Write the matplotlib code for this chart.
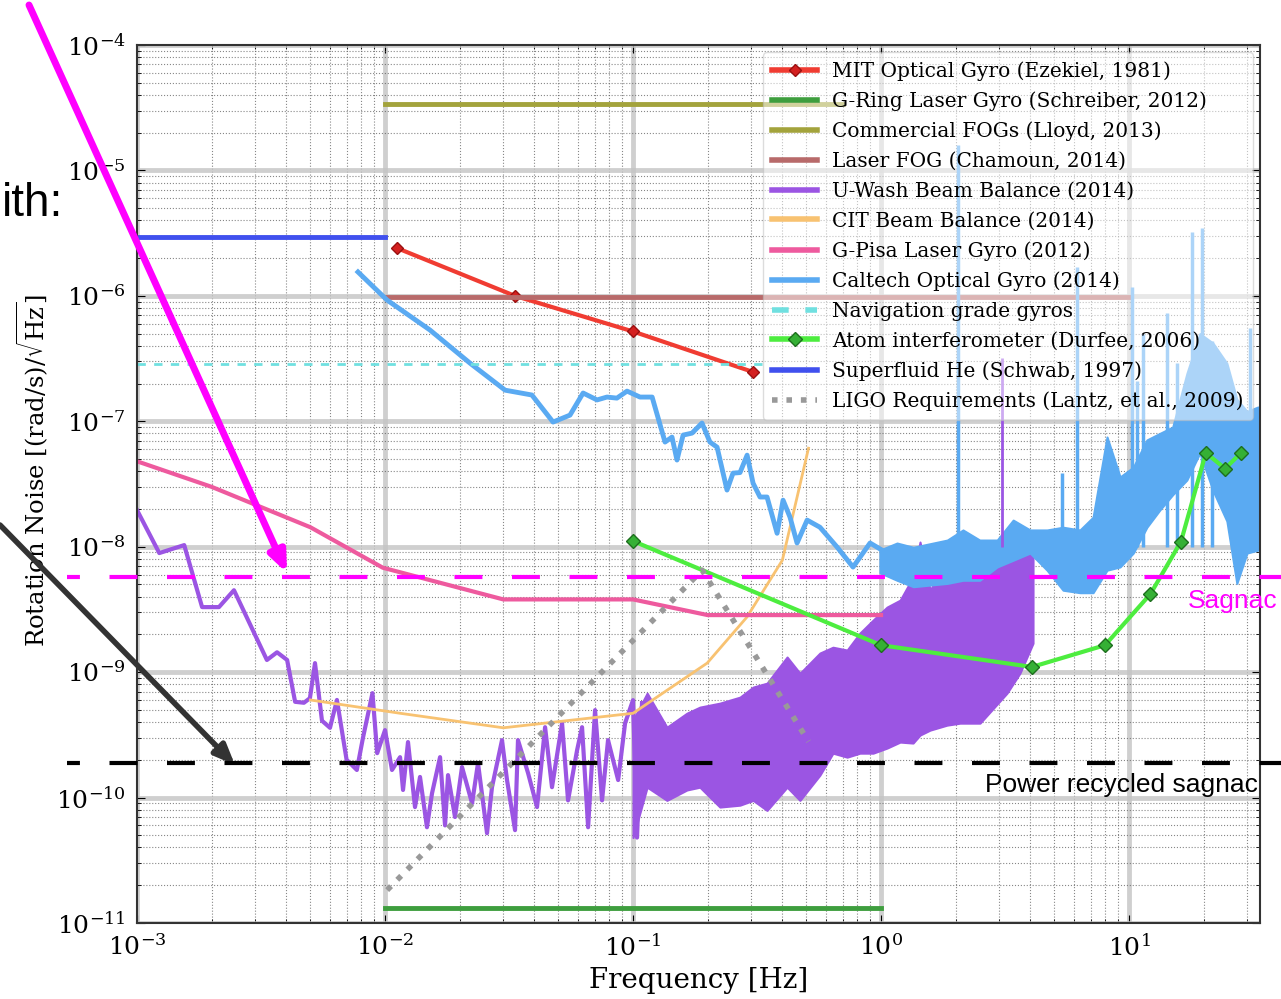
import matplotlib
matplotlib.use("Agg")
import matplotlib.pyplot as plt
from matplotlib import transforms
from matplotlib.lines import Line2D
from matplotlib.patches import FancyArrowPatch

plt.rcParams['font.family'] = 'DejaVu Serif'
plt.rcParams['mathtext.fontset'] = 'dejavuserif'

# ---- data (frequency in Hz, noise in (rad/s)/sqrt(Hz)) ----
mit_f = [0.0112, 0.0334, 0.1, 0.305]
mit_v = [2.4e-6, 1.0e-6, 5.2e-7, 2.47e-7]

gring_f = [0.01, 1.0]
gring_v = [1.31e-11, 1.31e-11]

cfog_f = [0.01, 0.7]
cfog_v = [3.38e-5, 3.38e-5]

lfog_f = [0.01, 10.0]
lfog_v = [9.8e-7, 9.8e-7]

# U-Wash beam balance: low-frequency trace, then dense band (lower / upper edge)
uw_f = [1.0e-3, 1.23e-3, 1.55e-3, 1.83e-3, 2.14e-3, 2.46e-3, 3.34e-3, 3.67e-3,
        4.03e-3, 4.34e-3, 4.71e-3, 4.98e-3, 5.22e-3, 5.57e-3, 6.0e-3, 6.4e-3,
        7.0e-3, 7.7e-3, 8.15e-3, 8.9e-3, 9.3e-3, 1.0e-2, 0.01067, 0.0115,
        0.01182, 0.01238, 0.01321, 0.01384, 0.01476, 0.01547, 0.01667, 0.01746,
        0.01795, 0.01915, 0.02044, 0.02244, 0.02371, 0.02578, 0.027, 0.02963,
        0.03104, 0.03344, 0.03437, 0.03773, 0.04102, 0.0442, 0.04713, 0.05174,
        0.0547, 0.0595, 0.0623, 0.0659, 0.0703, 0.075, 0.0793, 0.0871, 0.0929,
        0.1, 0.1038, 0.1087]
uw_v = [1.96e-8, 8.9e-9, 1.03e-8, 3.3e-9, 3.3e-9, 4.5e-9, 1.25e-9, 1.44e-9,
        1.25e-9, 5.8e-10, 5.7e-10, 6.2e-10, 1.18e-9, 4.1e-10, 3.6e-10, 6.0e-10,
        2.0e-10, 1.66e-10, 3.0e-10, 6.8e-10, 2.26e-10, 3.45e-10, 1.66e-10, 2.1e-10,
        1.15e-10, 2.77e-10, 8.4e-11, 1.46e-10, 5.8e-11, 1.08e-10, 2.1e-10, 6.0e-11,
        1.51e-10, 7.0e-11, 1.75e-10, 9.0e-11, 1.88e-10, 5.2e-11, 1.21e-10, 2.87e-10,
        1.38e-10, 5.5e-11, 2.87e-10, 1.57e-10, 8.4e-11, 3.64e-10, 1.21e-10, 3.92e-10,
        9.5e-11, 2.39e-10, 3.64e-10, 5.8e-11, 4.98e-10, 9.5e-11, 2.87e-10, 1.38e-10, 3.92e-10,
        5.98e-10, 4.8e-11, 5.66e-10]
uwd_f = [0.1, 0.114, 0.137, 0.165, 0.186, 0.224, 0.27, 0.305, 0.347, 0.418, 0.471,
         0.567, 0.64, 0.73, 0.822, 0.929, 1.057, 1.194, 1.346, 1.436, 1.577, 1.845,
         2.083, 2.506, 3.22, 3.63, 4.1]
uwd_hi = [4.14e-10, 6.8e-10, 3.64e-10, 4.71e-10, 5.26e-10, 5.66e-10, 6.32e-10, 7.6e-10,
          8.17e-10, 1.32e-9, 9.8e-10, 1.42e-9, 1.58e-9, 1.5e-9, 2.05e-9, 2.6e-9, 3.3e-9,
          3.75e-9, 5.73e-9, 1.09e-8, 4.51e-9, 7.54e-9, 8.9e-9, 9.93e-9, 1.13e-8, 1.24e-8,
          1.28e-8]
uwd_lo = [4.8e-11, 1.21e-10, 9.5e-11, 1.15e-10, 1.21e-10, 8.4e-11, 8.7e-11, 9.5e-11,
          7.9e-11, 1.21e-10, 9.5e-11, 1.51e-10, 2.26e-10, 2.1e-10, 2.26e-10, 2.26e-10,
          2.48e-10, 2.77e-10, 2.72e-10, 3.15e-10, 3.45e-10, 3.78e-10, 3.92e-10, 3.92e-10,
          6.8e-10, 9.8e-10, 1.7e-9]
uw_spike_f = [3.07]
uw_spike_v = [3.2e-7]

cit_f = [0.005, 0.0115, 0.030, 0.1, 0.199, 0.288, 0.40, 0.51]
cit_v = [6.0e-10, 4.7e-10, 3.6e-10, 4.7e-10, 1.18e-9, 2.75e-9, 7.8e-9, 6.1e-8]

pisa_f = [0.001, 0.002, 0.005, 0.0098, 0.03, 0.1, 0.2, 1.0]
pisa_v = [4.8e-8, 3.0e-8, 1.43e-8, 6.8e-9, 3.8e-9, 3.8e-9, 2.85e-9, 2.85e-9]

# Caltech optical gyro: trace up to ~1 Hz, then noisy band and spikes
cg_f = [7.78e-3, 1.019e-2, 1.518e-2, 2.2e-2, 3.05e-2, 3.91e-2, 4.76e-2, 5.57e-2,
        6.29e-2, 7.16e-2, 7.85e-2, 8.61e-2, 9.46e-2, 0.1067, 0.1194, 0.1346, 0.1436,
        0.1504, 0.1592, 0.173, 0.1897, 0.2042, 0.2182, 0.2393, 0.253, 0.27, 0.2884,
        0.3048, 0.3251, 0.347, 0.381, 0.4027, 0.4295, 0.4585, 0.5035, 0.567, 0.665,
        0.771, 0.903, 1.057]
cg_v = [1.55e-6, 9.26e-7, 5.34e-7, 2.91e-7, 1.77e-7, 1.62e-7, 9.86e-8, 1.12e-7,
        1.68e-7, 1.48e-7, 1.56e-7, 1.53e-7, 1.74e-7, 1.56e-7, 1.56e-7, 6.83e-8, 7.48e-8,
        4.91e-8, 7.76e-8, 8.05e-8, 9.68e-8, 6.83e-8, 6.22e-8, 2.83e-8, 3.86e-8, 3.9e-8,
        5.37e-8, 3.21e-8, 2.49e-8, 2.49e-8, 1.28e-8, 2.35e-8, 1.72e-8, 1.07e-8, 1.63e-8,
        1.43e-8, 9.93e-9, 6.88e-9, 1.07e-8, 8.9e-9]
cgb_f = [0.99, 1.16, 1.35, 1.85, 2.14, 2.5, 2.94, 3.41, 3.99, 4.67, 5.42, 6.34, 7.16,
         8.15, 9.2, 10.4, 11.8, 13.3, 15.0, 17.1, 19.3, 21.8, 24.8, 27.2, 29.9, 33.1]
cgb_hi = [9.4e-9, 1.07e-8, 9.9e-9, 1.13e-8, 1.36e-8, 1.13e-8, 1.13e-8, 1.63e-8, 1.36e-8,
          1.36e-8, 1.43e-8, 1.36e-8, 1.72e-8, 7.5e-8, 3.6e-8, 4.3e-8, 7.1e-8, 8.0e-8,
          9.0e-8, 2.4e-7, 5.0e-7, 4.2e-7, 2.9e-7, 1.5e-7, 1.2e-7, 1.3e-7]
cgb_lo = [6.2e-9, 5.4e-9, 4.8e-9, 5.1e-9, 5.4e-9, 5.4e-9, 6.9e-9, 7.8e-9, 8.9e-9,
          6.5e-9, 4.5e-9, 4.3e-9, 4.3e-9, 6.5e-9, 6.9e-9, 8.9e-9, 1.43e-8, 1.96e-8,
          2.6e-8, 3.4e-8, 5.6e-8, 2.8e-8, 1.6e-8, 5.1e-9, 8.9e-9, 9.4e-9]
cg_spike_f = [2.04, 5.37, 6.17, 8.95, 10.3, 10.8, 11.4, 14.2, 15.6, 17.9, 19.7, 21.6, 30.7]
cg_spike_v = [1.6e-5, 3.9e-8, 1.7e-6, 4.3e-8, 1.17e-6, 2.1e-7, 5.0e-7, 7.3e-7,
              2.9e-7, 3.2e-6, 3.5e-6, 4.4e-7, 5.5e-7]

nav_f = [0.001, 0.33]
nav_v = [2.86e-7, 2.86e-7]

atom_f = [0.1, 1.0, 4.06, 8.0, 12.2, 16.2, 20.4, 24.4, 28.3]
atom_v = [1.11e-8, 1.64e-9, 1.1e-9, 1.64e-9, 4.2e-9, 1.1e-8, 5.6e-8, 4.2e-8, 5.6e-8]

he_f = [0.001, 0.01]
he_v = [2.94e-6, 2.94e-6]

ligo_f = [0.0102, 0.19, 0.51]
ligo_v = [1.83e-11, 6.5e-9, 2.8e-10]

sagnac_level = 5.7e-9
pr_sagnac_level = 1.88e-10

# ---- figure ----
W, H = 1281, 999
fig = plt.figure(figsize=(W / 100, H / 100), dpi=100)
ax = fig.add_axes([137 / W, 1 - 923 / H, 1123 / W, 878 / H])
ax.set_xscale('log')
ax.set_yscale('log')

ax.plot(mit_f, mit_v, color='#f03c32', lw=3, marker='D', ms=6, mfc='#d42020',
        mec='#9a1010', label='MIT Optical Gyro (Ezekiel, 1981)')
ax.plot(gring_f, gring_v, color='#3e9e3e', lw=3.5, label='G-Ring Laser Gyro (Schreiber, 2012)')
ax.plot(cfog_f, cfog_v, color='#a3a33c', lw=3.5, label='Commercial FOGs (Lloyd, 2013)')
ax.plot(lfog_f, lfog_v, color='#b86a6a', lw=3.5, label='Laser FOG (Chamoun, 2014)')

uw_col = '#9b55e3'
ax.plot(uw_f, uw_v, color=uw_col, lw=3, label='U-Wash Beam Balance (2014)')
ax.fill_between(uwd_f, uwd_lo, uwd_hi, color=uw_col, lw=1.5, edgecolor=uw_col)
ax.vlines(uw_spike_f, 1e-8, uw_spike_v, color=uw_col, lw=2)

ax.plot(cit_f, cit_v, color='#f8c271', lw=2, label='CIT Beam Balance (2014)')
ax.plot(pisa_f, pisa_v, color='#ee5a9e', lw=3, label='G-Pisa Laser Gyro (2012)')

cg_col = '#5aaaf2'
ax.plot(cg_f, cg_v, color=cg_col, lw=3.5, label='Caltech Optical Gyro (2014)')
ax.fill_between(cgb_f, cgb_lo, cgb_hi, color=cg_col, lw=1.5, edgecolor=cg_col)
ax.vlines(cg_spike_f, 1e-8, cg_spike_v, color=cg_col, lw=2.5)

ax.plot(nav_f, nav_v, color='#70e0e0', lw=2, ls=(0, (3, 3)), label='Navigation grade gyros')
ax.plot(atom_f, atom_v, color='#4ded3f', lw=3, marker='D', ms=7, mfc='#35b035',
        mec='#1d6e1d', label='Atom interferometer (Durfee, 2006)')
ax.plot(he_f, he_v, color='#4050ee', lw=3.5, label='Superfluid He (Schwab, 1997)')
ax.plot(ligo_f, ligo_v, color='#999999', lw=4, ls=(0, (1, 1.6)),
        label='LIGO Requirements (Lantz, et al., 2009)')

ax.set_xlim(1e-3, 10 ** 1.528)
ax.set_ylim(1e-11, 1e-4)

ax.grid(which='major', color='#c4c4c4', lw=3.5, alpha=0.8)
ax.grid(which='minor', color='#555555', lw=0.8, ls=':', alpha=0.7)
ax.set_axisbelow(True)
ax.tick_params(which='both', direction='in', top=True, right=True, labelsize=18)
ax.tick_params(which='major', length=6, pad=8)
ax.tick_params(which='minor', length=3)
for s in ax.spines.values():
    s.set_color('#333333')
    s.set_linewidth(1.5)

ax.set_xlabel('Frequency [Hz]', fontsize=20)
ax.xaxis.set_label_coords(0.5, -0.05)
ax.set_ylabel(r'Rotation Noise [(rad/s)/$\sqrt{\mathrm{Hz}}$]', fontsize=17.5)
ax.yaxis.set_label_coords(-0.077, 0.515)

leg = ax.legend(loc='upper right', fontsize=14.5, numpoints=1, framealpha=0.5, fancybox=True,
                handlelength=2.25, labelspacing=0.53, borderpad=0.45, borderaxespad=0.35,
                handletextpad=0.75, edgecolor='#bbbbbb')
for ln in leg.get_lines():
    ln.set_linewidth(4)

# ---- slide annotations ----
trans = transforms.blended_transform_factory(fig.transFigure, ax.transData)
fig.add_artist(Line2D([67 / W, 1.0], [sagnac_level, sagnac_level], transform=trans,
                      color='#ff00ff', lw=3, ls=(3.6, (6.7, 7.1))))
fig.add_artist(Line2D([67 / W, 1.0], [pr_sagnac_level, pr_sagnac_level], transform=trans,
                      color='black', lw=3, ls=(3.6, (6.7, 7.1))))
fig.text(1188 / W, 1 - 601 / H, 'Sagnac', color='#ff00ff', fontsize=19,
         family='Liberation Sans', va='center', ha='left')
fig.text(985 / W, 1 - 785 / H, 'Power recycled sagnac', color='black', fontsize=19,
         family='Liberation Sans', va='center', ha='left')
fig.text(2 / W, 1 - 216 / H, 'ith:', color='black', fontsize=33,
         family='Liberation Sans', va='baseline', ha='left')

fig.add_artist(FancyArrowPatch((29 / W, 1 - 5 / H), (287 / W, 1 - 573 / H),
                               transform=fig.transFigure, mutation_scale=10,
                               arrowstyle='-|>,head_length=1.2,head_width=0.5',
                               color='#ff00ff', lw=5, shrinkA=0, shrinkB=0))
fig.add_artist(FancyArrowPatch((0, 1 - 525 / H), (235 / W, 1 - 765 / H),
                               transform=fig.transFigure, mutation_scale=10,
                               arrowstyle='-|>,head_length=1.2,head_width=0.5',
                               color='#333333', lw=4, shrinkA=0, shrinkB=0))

fig.savefig('out.png', dpi=100)
